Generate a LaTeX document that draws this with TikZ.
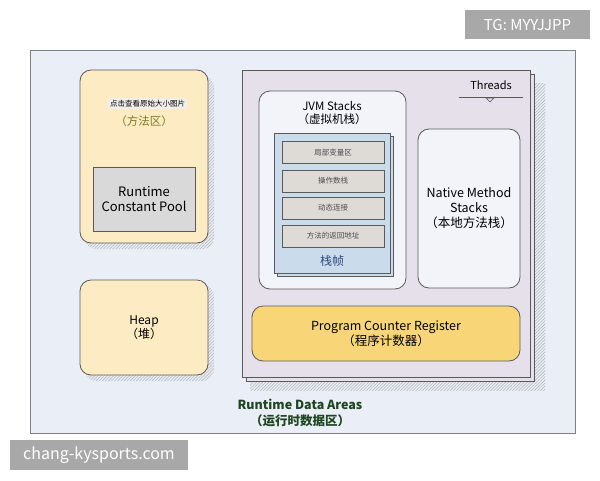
\documentclass[tikz,border=0pt]{standalone}
\usepackage{fontspec}
\setmainfont{Noto Sans CJK SC}
\usetikzlibrary{patterns.meta}
\definecolor{outerfill}{HTML}{E9EEF7}
\definecolor{yellowfill}{HTML}{FDEBC3}
\definecolor{pcfill}{HTML}{F8D678}
\definecolor{threadfill}{HTML}{E5E0EA}
\definecolor{stackfill}{HTML}{F2F4FA}
\definecolor{framefill}{HTML}{CADBEC}
\definecolor{slotfill}{HTML}{DEDBD7}
\definecolor{hintfill}{HTML}{F1EFEC}
\definecolor{edge}{HTML}{5A5A5A}
\definecolor{wmgray}{HTML}{A8A8A8}
\definecolor{olive}{HTML}{7C7A22}
\definecolor{darkgreen}{HTML}{1F4620}
\definecolor{frameblue}{HTML}{2C4C7C}
\tikzset{
  box/.style={draw=edge, line width=0.8pt, inner sep=0pt, align=center},
  rbox/.style={box, rounded corners=11pt},
  hatch/.style={pattern={Lines[angle=45,distance=2.2pt,line width=0.6pt]}, pattern color=gray!55},
  slot/.style={box, fill=slotfill, minimum width=102pt, minimum height=22pt, font=\fontsize{7.5}{9}\selectfont, text=black!70},
  wm/.style={fill=wmgray, text=white, inner sep=0pt}
}
\begin{document}
\begin{tikzpicture}[x=1pt,y=-1pt]
\useasboundingbox (0,0) rectangle (600,480);
\fill[white] (0,0) rectangle (600,480);
% outer frame
\node[box, draw=gray, line width=0.8pt, fill=outerfill, minimum width=545pt, minimum height=383pt] (outer) at (302.5,241.5) {};
% method area
\fill[hatch, rounded corners=11pt] (85,76) rectangle (214,249);
\node[rbox, fill=yellowfill, minimum width=128pt, minimum height=173pt] (method) at (144,156.5) {};
\node[fill=hintfill, inner sep=1.8pt, font=\fontsize{7.5}{9}\selectfont] (hint) at (147.5,103.5) {点击查看原始大小图片};
\node[text=olive, font=\fontsize{11.5}{13}\selectfont] (methodlbl) at (144,121) {（方法区）};
\node[box, fill=black!15, minimum width=102pt, minimum height=64pt, font=\fontsize{13}{15.5}\selectfont] (rcp) at (144,199) {Runtime\\Constant Pool};
% heap
\fill[hatch, rounded corners=11pt] (85,285) rectangle (214,381);
\node[rbox, fill=yellowfill, minimum width=128pt, minimum height=95pt, font=\fontsize{12}{14}\selectfont] (heap) at (144,327.5) {Heap\\（堆）};
% threads
\fill[hatch] (250,83) rectangle (545,390);
\node[box, fill=threadfill, minimum width=288pt, minimum height=307pt] (threadsback) at (390,227.5) {};
\node[box, fill=threadfill, minimum width=288pt, minimum height=307pt] (threads) at (386,223.5) {};
\node[font=\fontsize{11}{12}\selectfont] (threadslbl) at (491,85) {Threads};
\coordinate (tl) at (459,97);
\coordinate (tr) at (523,97);
\draw[edge, line width=0.8pt] (tl) -- (tr);
\draw[edge, line width=0.6pt, fill=threadfill] (486,98) -- (494,98) -- (490,102) -- cycle;
% JVM stacks
\node[rbox, fill=stackfill, minimum width=147pt, minimum height=198pt] (jvm) at (332.5,190) {};
\node[font=\fontsize{11.5}{13.5}\selectfont, align=center] (jvmlbl) at (332,113) {JVM Stacks\\（虚拟机栈）};
\node[box, fill=framefill, minimum width=116pt, minimum height=140pt] (frameback) at (335,206) {};
\node[box, fill=framefill, minimum width=116pt, minimum height=140pt] (frame) at (332,203) {};
\node[slot] (s1) at (333,152.5) {局部变量区};
\node[slot] (s2) at (333,181) {操作数栈};
\node[slot] (s3) at (333,208) {动态连接};
\node[slot] (s4) at (333,236) {方法的返回地址};
\node[text=frameblue, font=\fontsize{12}{13}\selectfont] (framelbl) at (332,261) {栈帧};
% native method stacks
\node[rbox, fill=stackfill, minimum width=102pt, minimum height=159pt, font=\fontsize{12.5}{15}\selectfont] (native) at (469,208.5) {Native Method\\Stacks\\（本地方法栈）};
% program counter
\node[rbox, fill=pcfill, minimum width=268pt, minimum height=55pt, font=\fontsize{12.5}{15}\selectfont] (pc) at (386,333.5) {Program Counter Register\\（程序计数器）};
% title
\node[text=darkgreen, font=\bfseries\fontsize{12.5}{15.5}\selectfont, align=center] (title) at (300,413) {Runtime Data Areas\\（运行时数据区）};
% watermarks
\node[wm, minimum width=125pt, minimum height=29pt, font=\fontsize{15}{17}\selectfont] (wm1) at (527.5,24.5) {TG: MYYJJPP};
\node[wm, minimum width=178pt, minimum height=30pt, font=\fontsize{16}{18}\selectfont] (wm2) at (99,455) {chang-kysports.com};
\end{tikzpicture}
\end{document}
